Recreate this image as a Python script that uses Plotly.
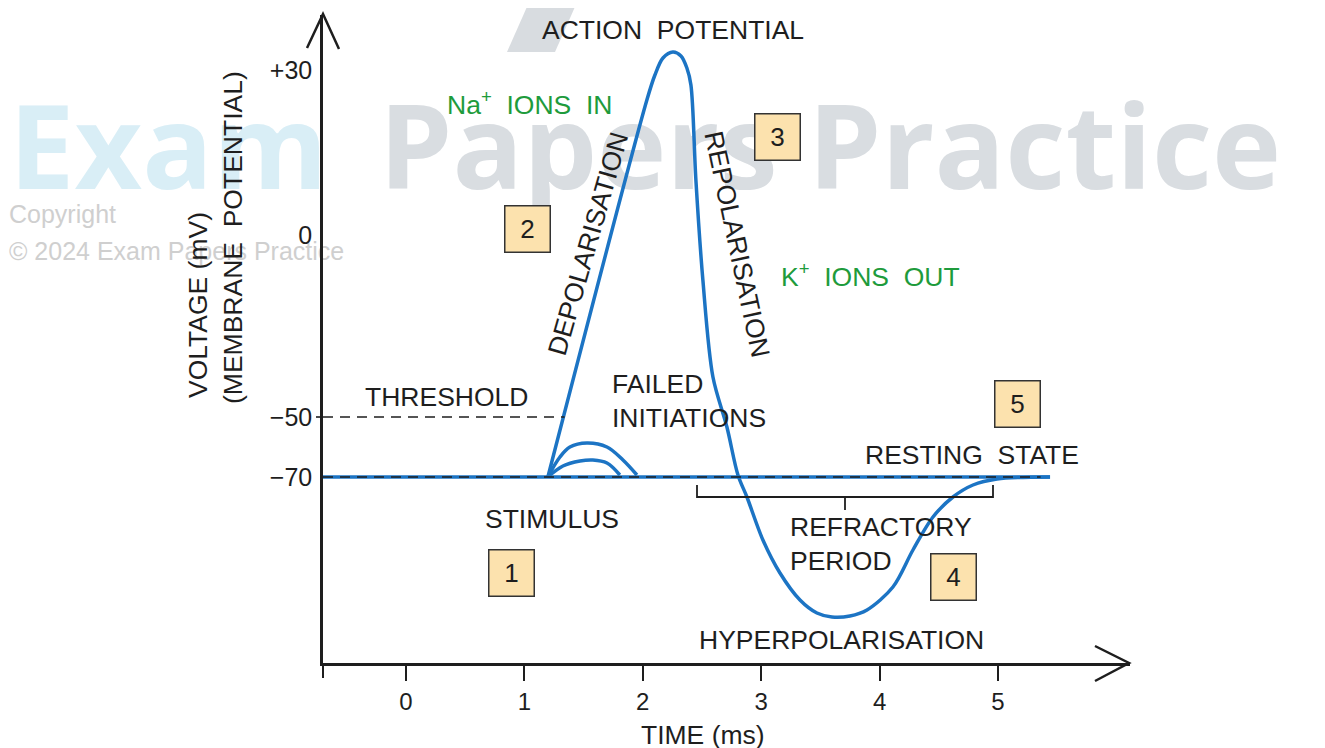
import plotly.graph_objects as go

# ---------------- data (time in ms, voltage in schematic drawing units) ----------------
X_TICKS = [0, 1, 2, 3, 4, 5]
X_TICK_TEXT = ["0", "1", "2", "3", "4", "5"]
Y_TICKS = [186, 246, 428, 593]
Y_TICK_TEXT = ["\u221270", "\u221250", "0", "+30"]

REST_LEVEL = 186
THRESHOLD_LEVEL = 246

AP_TIME = [1.199, 2.035, 2.103, 2.171, 2.255, 2.323, 2.373, 2.407, 2.449, 2.508, 2.593,
           2.711, 2.804, 2.880, 3.015, 3.159, 3.328, 3.471, 3.598, 3.750, 3.894, 4.113,
           4.282, 4.451, 4.620, 4.789, 4.992, 5.439]
AP_VOLT = [186, 563, 588, 605, 611, 607, 595, 578, 483, 383, 286,
           236, 188, 166, 123, 90, 63, 50, 46, 47, 53, 76,
           113, 146, 166, 178, 184, 186]

FAIL1_TIME = [1.199, 1.301, 1.385, 1.529, 1.698, 1.833, 1.951]
FAIL1_VOLT = [186, 206, 216, 220, 216, 203, 188]
FAIL2_TIME = [1.199, 1.326, 1.470, 1.579, 1.698, 1.807]
FAIL2_VOLT = [186, 197, 202, 203, 200, 188]

BASE_TIME = [-0.7, 5.44]
THRESH_TIME = [-0.7, 1.34]
REST_DASH_TIME = [-0.7, 5.36]

X_RANGE = [-0.7, 6.115]
Y_RANGE = [0, 648]

# ---------------- page geometry ----------------
W, H = 1325, 748
OFF = 8                      # page body margin of the html page
PLOT_L, PLOT_R, PLOT_T, PLOT_B = 323, 1130, 15, 663   # plot area in page pixels

BLUE = "#1c74c4"
GREEN = "#1e9b3c"
INK = "#1e1e1e"
FONT = "Liberation Sans"
BOX_FILL = "#fce2ae"
TS = 26.5

fig = go.Figure()

# ---- watermark layer (pixel axes x/y covering the whole figure) ----
fig.add_trace(go.Scatter(x=[9], y=[160], mode="text", text=["Exam"],
                         textposition="middle right", cliponaxis=False, hoverinfo="skip",
                         xaxis="x", yaxis="y",
                         textfont=dict(family="Open Sans", size=117, color="#d9eef6", weight=700)))
fig.add_trace(go.Scatter(x=[379], y=[160], mode="text", text=["Papers Practice"],
                         textposition="middle right", cliponaxis=False, hoverinfo="skip",
                         xaxis="x", yaxis="y",
                         textfont=dict(family="Open Sans", size=117, color="#d9dde1", weight=700)))
fig.add_trace(go.Scatter(x=[9, 9], y=[217, 254], mode="text",
                         text=["Copyright", "\u00a9 2024 Exam Papers Practice"],
                         textposition="middle right", cliponaxis=False, hoverinfo="skip",
                         xaxis="x", yaxis="y",
                         textfont=dict(family="Liberation Sans", size=25, color="#cfcfcf")))

# ---- chart layer (x2/y2) ----
line_style = dict(color=BLUE, width=3.5)
common = dict(mode="lines", hoverinfo="skip", xaxis="x2", yaxis="y2")
fig.add_trace(go.Scatter(x=BASE_TIME, y=[REST_LEVEL] * 2, line=line_style, **common))
fig.add_trace(go.Scatter(x=FAIL1_TIME, y=FAIL1_VOLT,
                         line=dict(color=BLUE, width=3.5, shape="spline"), **common))
fig.add_trace(go.Scatter(x=FAIL2_TIME, y=FAIL2_VOLT,
                         line=dict(color=BLUE, width=3.5, shape="spline"), **common))
fig.add_trace(go.Scatter(x=AP_TIME, y=AP_VOLT,
                         line=dict(color=BLUE, width=3.5, shape="spline", smoothing=0.9), **common))

dash_style = dict(color=INK, width=1.6, dash="10px,7px")
fig.add_trace(go.Scatter(x=THRESH_TIME, y=[THRESHOLD_LEVEL] * 2, line=dash_style, **common))
fig.add_trace(go.Scatter(x=REST_DASH_TIME, y=[REST_LEVEL] * 2, line=dash_style, **common))

# ---------------- shapes (page-pixel coordinates on x/y) ----------------
def path(pts, close=False):
    s = "M " + " L ".join(f"{a} {b}" for a, b in pts)
    return s + (" Z" if close else "")


shapes = [
    dict(type="path", xref="x", yref="y", layer="below",
         path=path([(507, 52), (555, 52), (578, 0), (530, 0)], close=True),
         fillcolor="#d8dce0", line=dict(width=0)),
    dict(type="path", xref="x", yref="y", path=path([(1095, 646), (1129, 663), (1095, 681)]),
         line=dict(color=INK, width=2.5)),
    dict(type="path", xref="x", yref="y", path=path([(307, 48), (323, 14), (339, 49)]),
         line=dict(color=INK, width=2.5)),
    dict(type="line", xref="x", yref="y", x0=323, x1=323, y0=663, y1=678,
         line=dict(color=INK, width=2)),
    dict(type="line", xref="x", yref="y", x0=316, x1=323, y0=417, y1=417,
         line=dict(color=INK, width=1.6)),
    dict(type="path", xref="x", yref="y",
         path=path([(697, 485), (697, 497), (993, 497), (993, 485)]) + " M 845 497 L 845 510",
         line=dict(color=INK, width=1.8)),
]

# ---------------- annotations ----------------
ann = []


def text(x, y, s, size=TS, color=INK, angle=0, xanchor="center", align="center"):
    ann.append(dict(x=x, y=y, xref="x", yref="y", text=s, showarrow=False,
                    xanchor=xanchor, yanchor="middle", align=align, textangle=angle,
                    font=dict(family=FONT, size=size, color=color)))


text(673, 30, "ACTION  POTENTIAL")
text(529, 103, "Na<sup>+</sup>  IONS  IN", color=GREEN)
text(870, 275, "K<sup>+</sup>  IONS  OUT", color=GREEN)
text(588, 244, "DEPOLARISATION", angle=-74)
text(737, 244, "REPOLARISATION", angle=78)
text(446, 397, "THRESHOLD")
text(610, 401, "FAILED<br>INITIATIONS", xanchor="left", align="left")
text(552, 519, "STIMULUS")
text(972, 455, "RESTING  STATE")
text(788, 544, "REFRACTORY<br>PERIOD", xanchor="left", align="left")
text(841, 640, "HYPERPOLARISATION")
text(703, 735, "TIME (ms)")
text(198, 305, "VOLTAGE (mV)", angle=-90)
text(233, 238, "(MEMBRANE  POTENTIAL)", angle=-90)

for label, (bx, by) in zip(["1", "2", "3", "4", "5"],
                           [(511, 573), (527, 229), (777, 137), (953, 577), (1017, 404)]):
    ann.append(dict(x=bx, y=by, xref="x", yref="y", text=label,
                    showarrow=False, xanchor="center", yanchor="middle",
                    width=44, height=45, bgcolor=BOX_FILL, bordercolor="#333333",
                    borderwidth=1.5, borderpad=0,
                    font=dict(family=FONT, size=26, color=INK)))

fig.update_layout(
    width=W, height=H, autosize=False,
    margin=dict(l=0, r=0, t=0, b=0, pad=0),
    paper_bgcolor="white", plot_bgcolor="rgba(0,0,0,0)",
    showlegend=False,
    shapes=shapes, annotations=ann,
    # pixel axes for decoration (reference page pixels)
    xaxis=dict(domain=[0, 1], range=[OFF, W + OFF], visible=False, fixedrange=True),
    yaxis=dict(domain=[0, 1], range=[H + OFF, OFF], visible=False, fixedrange=True),
    # chart axes
    xaxis2=dict(domain=[(PLOT_L - OFF) / W, (PLOT_R - OFF) / W], anchor="y2",
                range=X_RANGE, tickvals=X_TICKS, ticktext=X_TICK_TEXT,
                showgrid=False, zeroline=False, showline=True, linecolor=INK, linewidth=2.5,
                ticks="outside", ticklen=15, tickwidth=2, tickcolor=INK,
                tickfont=dict(family=FONT, size=24, color=INK), fixedrange=True),
    yaxis2=dict(domain=[(H - (PLOT_B - OFF)) / H, (H - (PLOT_T - OFF)) / H], anchor="x2",
                range=Y_RANGE, tickvals=Y_TICKS, ticktext=Y_TICK_TEXT,
                showgrid=False, zeroline=False, showline=True, linecolor=INK, linewidth=2.5,
                ticks="", ticklabelstandoff=3,
                tickfont=dict(family=FONT, size=25, color=INK), fixedrange=True),
)

fig.write_html("out.html")
